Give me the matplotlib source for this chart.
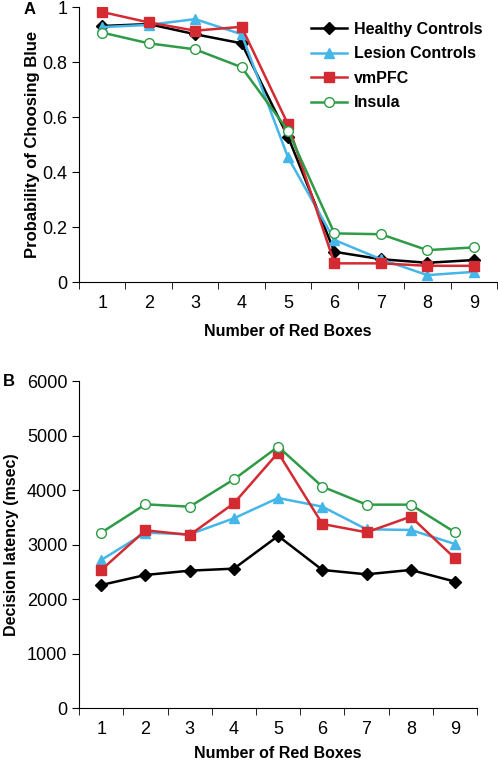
import matplotlib.pyplot as plt
import numpy as np

plt.rcParams['font.family'] = ['Liberation Sans', 'DejaVu Sans']

boxes = [1, 2, 3, 4, 5, 6, 7, 8, 9]
groups = ['Healthy Controls', 'Lesion Controls', 'vmPFC', 'Insula']

# panel A: probability of choosing blue
prob_healthy = [0.932, 0.939, 0.902, 0.869, 0.529, 0.110, 0.083, 0.070, 0.080]
prob_lesion = [0.928, 0.936, 0.957, 0.902, 0.454, 0.153, 0.083, 0.025, 0.037]
prob_vmpfc = [0.983, 0.945, 0.915, 0.929, 0.574, 0.068, 0.068, 0.059, 0.059]
prob_insula = [0.908, 0.869, 0.847, 0.782, 0.551, 0.177, 0.174, 0.116, 0.126]

# panel B: decision latency (msec)
lat_healthy = [2260, 2444, 2523, 2560, 3159, 2536, 2456, 2536, 2322]
lat_lesion = [2719, 3220, 3189, 3483, 3855, 3696, 3281, 3269, 3012]
lat_vmpfc = [2536, 3263, 3177, 3758, 4686, 3379, 3226, 3513, 2750]
lat_insula = [3220, 3739, 3696, 4197, 4796, 4063, 3733, 3733, 3226]

styles = [
    dict(color='black', marker='D', ms=6, mfc='black', mec='black'),
    dict(color='#45b6e8', marker='^', ms=7, mfc='#45b6e8', mec='#45b6e8'),
    dict(color='#d42a32', marker='s', ms=7, mfc='#d42a32', mec='#d42a32'),
    dict(color='#2e9b46', marker='o', ms=7, mfc='white', mec='#2e9b46'),
]

fig = plt.figure(figsize=(4.98, 7.62), dpi=100)
axA = fig.add_axes([0.1586, 0.6299, 0.8394, 0.3605])
axB = fig.add_axes([0.159, 0.0705, 0.799, 0.4295])


def style_axis(ax):
    for s in ['top', 'right']:
        ax.spines[s].set_visible(False)
    ax.set_xlim(0.5, 9.5)
    ax.set_xticks(boxes)
    ax.set_xticklabels([str(b) for b in boxes])
    ax.set_xticks(np.arange(0.5, 10, 1), minor=True)
    ax.tick_params(axis='x', which='major', length=0, pad=9, labelsize=13)
    ax.tick_params(axis='x', which='minor', length=5, direction='out')
    ax.tick_params(axis='y', length=5, labelsize=13)


for vals, name, st in zip([prob_healthy, prob_lesion, prob_vmpfc, prob_insula], groups, styles):
    axA.plot(boxes, vals, lw=1.8, label=name, **st)
style_axis(axA)
axA.set_ylim(0, 1)
axA.set_yticks([0, 0.2, 0.4, 0.6, 0.8, 1.0])
axA.set_yticklabels(['0', '0.2', '0.4', '0.6', '0.8', '1'])
axA.set_xlabel('Number of Red Boxes', fontsize=11.5, fontweight='bold', labelpad=9)
axA.set_ylabel('Probability of Choosing Blue', fontsize=12, fontweight='bold', labelpad=1.5)
axA.legend(loc='upper left', bbox_to_anchor=(0.52, 1.0), frameon=False,
           prop={'weight': 'bold', 'size': 11.5}, handlelength=2.3,
           handletextpad=0.4, labelspacing=0.6)
fig.text(30 / 498, 1 - 9 / 762, 'A', fontsize=12, fontweight='bold',
         ha='center', va='center')

for vals, name, st in zip([lat_healthy, lat_lesion, lat_vmpfc, lat_insula], groups, styles):
    axB.plot(boxes, vals, lw=1.8, label=name, **st)
style_axis(axB)
axB.set_ylim(0, 6000)
axB.set_yticks(range(0, 7000, 1000))
axB.set_xlabel('Number of Red Boxes', fontsize=11.5, fontweight='bold', labelpad=6)
axB.set_ylabel('Decision latency (msec)', fontsize=11.5, fontweight='bold', labelpad=6)
fig.text(9 / 498, 1 - 382 / 762, 'B', fontsize=12, fontweight='bold',
         ha='center', va='center')

fig.savefig('out.png', dpi=100)
